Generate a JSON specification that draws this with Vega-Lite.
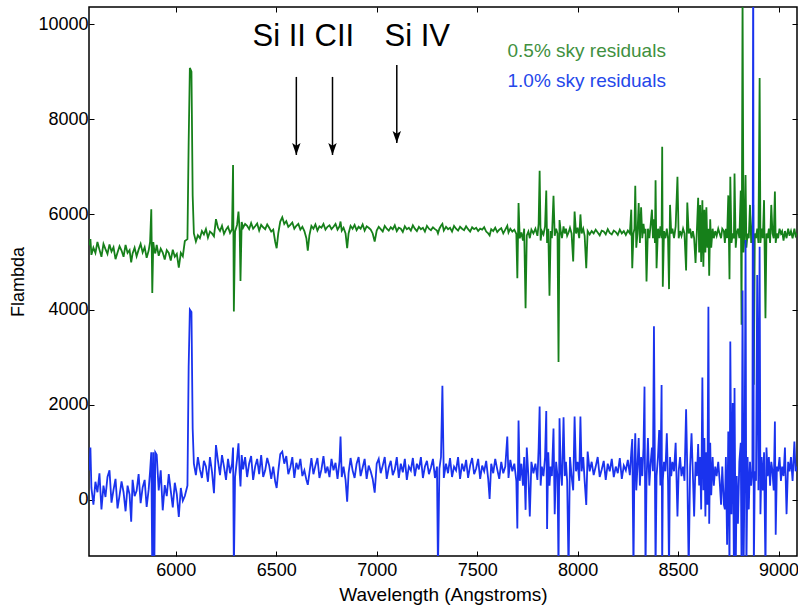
{
  "$schema": "https://vega.github.io/schema/vega-lite/v6.json",
  "width": 708,
  "height": 549,
  "autosize": {"type": "none"},
  "padding": {"left": 89, "top": 7, "right": 1, "bottom": 50},
  "background": "white",
  "config": {
    "view": {"stroke": "black", "strokeWidth": 1.5},
    "font": "Liberation Sans",
    "axis": {"labelFont": "Liberation Sans", "titleFont": "Liberation Sans", "labelFontSize": 18, "titleFontSize": 18, "titleFontWeight": "normal", "labelColor": "black", "titleColor": "black", "tickColor": "black", "domain": false, "grid": false, "tickSize": -5, "tickWidth": 1, "format": "d"}
  },
  "datasets": {
    "spec": [
      {"w":5570,"g":5350,"b":620},{"w":5575,"g":5480,"b":1100},{"w":5580,"g":5150,"b":250},{"w":5590,"g":5300,"b":-100},{"w":5600,"g":5190,"b":380},{"w":5610,"g":5420,"b":160},{"w":5620,"g":5260,"b":560},{"w":5630,"g":5110,"b":-200},{"w":5640,"g":5380,"b":300},{"w":5650,"g":5270,"b":60},{"w":5660,"g":5170,"b":480},{"w":5670,"g":5370,"b":620},{"w":5680,"g":5220,"b":-60},{"w":5690,"g":5310,"b":210},{"w":5700,"g":5060,"b":440},{"w":5710,"g":5200,"b":-180},{"w":5720,"g":5330,"b":90},{"w":5730,"g":5240,"b":390},{"w":5740,"g":5110,"b":160},{"w":5750,"g":5360,"b":-240},{"w":5760,"g":5190,"b":300},{"w":5770,"g":5250,"b":110},{"w":5778,"g":4990,"b":-460},{"w":5785,"g":5180,"b":420},{"w":5795,"g":5300,"b":80},{"w":5805,"g":5120,"b":190},{"w":5815,"g":5260,"b":540},{"w":5825,"g":5380,"b":-70},{"w":5835,"g":5200,"b":260},{"w":5845,"g":5310,"b":420},{"w":5855,"g":5090,"b":-150},{"w":5865,"g":5240,"b":220},{"w":5872,"g":5420,"b":600},{"w":5878,"g":6110,"b":1000},{"w":5883,"g":4350,"b":-1500},{"w":5888,"g":5420,"b":1000},{"w":5893,"g":5250,"b":-1500},{"w":5898,"g":5180,"b":1000},{"w":5905,"g":5360,"b":950},{"w":5915,"g":5130,"b":200},{"w":5925,"g":5280,"b":620},{"w":5935,"g":5200,"b":-220},{"w":5945,"g":5050,"b":310},{"w":5955,"g":5250,"b":80},{"w":5965,"g":5190,"b":540},{"w":5975,"g":5030,"b":190},{"w":5985,"g":5260,"b":-160},{"w":5995,"g":5110,"b":360},{"w":6005,"g":5170,"b":120},{"w":6015,"g":4880,"b":-360},{"w":6025,"g":5190,"b":250},{"w":6035,"g":5120,"b":-20},{"w":6045,"g":5440,"b":80},{"w":6058,"g":5480,"b":300},{"w":6064,"g":7500,"b":2800},{"w":6070,"g":9080,"b":4000},{"w":6078,"g":9000,"b":3950},{"w":6084,"g":6400,"b":1500},{"w":6090,"g":5600,"b":760},
      {"w":6100,"g":5430,"b":520},{"w":6110,"g":5560,"b":900},{"w":6120,"g":5500,"b":640},{"w":6130,"g":5650,"b":460},{"w":6140,"g":5580,"b":820},{"w":6150,"g":5690,"b":700},{"w":6160,"g":5510,"b":380},{"w":6170,"g":5640,"b":900},{"w":6180,"g":5600,"b":600},{"w":6190,"g":5540,"b":140},{"w":6200,"g":5900,"b":1150},{"w":6210,"g":5720,"b":820},{"w":6220,"g":5650,"b":520},{"w":6230,"g":5760,"b":940},{"w":6240,"g":5590,"b":700},{"w":6250,"g":5680,"b":420},{"w":6260,"g":5740,"b":860},{"w":6270,"g":5610,"b":560},{"w":6280,"g":5690,"b":760},{"w":6285,"g":7040,"b":1100},{"w":6289,"g":3960,"b":-1500},{"w":6295,"g":5640,"b":480},{"w":6305,"g":5780,"b":860},{"w":6312,"g":6060,"b":1190},{"w":6318,"g":5660,"b":560},{"w":6322,"g":4600,"b":280},{"w":6328,"g":5840,"b":940},{"w":6335,"g":5720,"b":640},{"w":6345,"g":5800,"b":900},{"w":6355,"g":5760,"b":480},{"w":6365,"g":5690,"b":760},{"w":6375,"g":5820,"b":920},{"w":6385,"g":5700,"b":420},{"w":6395,"g":5750,"b":700},{"w":6405,"g":5810,"b":860},{"w":6415,"g":5660,"b":540},{"w":6425,"g":5780,"b":940},{"w":6435,"g":5730,"b":480},{"w":6445,"g":5690,"b":620},{"w":6455,"g":5790,"b":880},{"w":6465,"g":5720,"b":720},{"w":6475,"g":5640,"b":440},{"w":6485,"g":5680,"b":700},{"w":6495,"g":5420,"b":380},{"w":6502,"g":5290,"b":250},{"w":6510,"g":5600,"b":600},{"w":6520,"g":5850,"b":960},{"w":6530,"g":5940,"b":1015},{"w":6540,"g":5800,"b":760},{"w":6550,"g":5860,"b":920},{"w":6560,"g":5740,"b":540},{"w":6570,"g":5780,"b":680},{"w":6580,"g":5830,"b":900},{"w":6590,"g":5700,"b":460},{"w":6600,"g":5760,"b":780},{"w":6610,"g":5800,"b":640},{"w":6620,"g":5680,"b":860},{"w":6630,"g":5740,"b":500},{"w":6640,"g":5650,"b":620},{"w":6650,"g":5500,"b":420},{"w":6657,"g":5240,"b":315},{"w":6665,"g":5560,"b":560},{"w":6675,"g":5760,"b":880},{"w":6685,"g":5700,"b":540},{"w":6695,"g":5790,"b":720},{"w":6705,"g":5660,"b":880},{"w":6715,"g":5750,"b":460},{"w":6725,"g":5720,"b":640},{"w":6735,"g":5800,"b":920},{"w":6745,"g":5680,"b":560},{"w":6755,"g":5740,"b":700},{"w":6765,"g":5770,"b":480},{"w":6775,"g":5690,"b":860},{"w":6785,"g":5740,"b":620},{"w":6795,"g":5800,"b":780},{"w":6805,"g":5680,"b":440},{"w":6815,"g":5750,"b":820},{"w":6820,"g":5850,"b":1330},{"w":6826,"g":5660,"b":480},{"w":6835,"g":5720,"b":700},{"w":6845,"g":5600,"b":420},{"w":6853,"g":5290,"b":-40},{"w":6860,"g":5600,"b":560},{"w":6870,"g":5760,"b":880},{"w":6880,"g":5700,"b":620},{"w":6890,"g":5780,"b":460},{"w":6900,"g":5670,"b":760},{"w":6910,"g":5740,"b":900},{"w":6920,"g":5700,"b":500},{"w":6930,"g":5790,"b":680},{"w":6940,"g":5660,"b":860},{"w":6950,"g":5750,"b":440},{"w":6960,"g":5720,"b":720},{"w":6970,"g":5680,"b":600},{"w":6980,"g":5600,"b":440},{"w":6990,"g":5430,"b":150},{"w":7000,"g":5660,"b":760},
      {"w":7010,"g":5740,"b":860},{"w":7020,"g":5690,"b":560},{"w":7030,"g":5640,"b":720},{"w":7040,"g":5760,"b":900},{"w":7050,"g":5700,"b":440},{"w":7060,"g":5660,"b":680},{"w":7070,"g":5730,"b":820},{"w":7080,"g":5690,"b":520},{"w":7090,"g":5770,"b":640},{"w":7100,"g":5650,"b":900},{"w":7110,"g":5720,"b":460},{"w":7120,"g":5700,"b":760},{"w":7130,"g":5630,"b":580},{"w":7140,"g":5750,"b":860},{"w":7150,"g":5690,"b":420},{"w":7160,"g":5720,"b":700},{"w":7170,"g":5660,"b":620},{"w":7180,"g":5770,"b":880},{"w":7190,"g":5700,"b":500},{"w":7200,"g":5650,"b":760},{"w":7210,"g":5740,"b":640},{"w":7220,"g":5690,"b":900},{"w":7230,"g":5720,"b":460},{"w":7240,"g":5640,"b":700},{"w":7250,"g":5760,"b":820},{"w":7260,"g":5700,"b":540},{"w":7270,"g":5670,"b":680},{"w":7280,"g":5730,"b":860},{"w":7290,"g":5690,"b":460},{"w":7300,"g":5660,"b":700},{"w":7305,"g":5600,"b":-1500},{"w":7312,"g":5700,"b":650},{"w":7320,"g":5760,"b":900},{"w":7327,"g":5800,"b":2400},{"w":7334,"g":5660,"b":460},{"w":7345,"g":5740,"b":760},{"w":7355,"g":5690,"b":560},{"w":7365,"g":5720,"b":880},{"w":7375,"g":5640,"b":480},{"w":7385,"g":5760,"b":700},{"w":7395,"g":5700,"b":620},{"w":7405,"g":5660,"b":900},{"w":7415,"g":5740,"b":440},{"w":7425,"g":5700,"b":760},{"w":7435,"g":5670,"b":600},{"w":7445,"g":5750,"b":840},{"w":7455,"g":5690,"b":460},{"w":7465,"g":5640,"b":720},{"w":7475,"g":5730,"b":880},{"w":7485,"g":5690,"b":540},{"w":7495,"g":5720,"b":660},{"w":7505,"g":5650,"b":860},{"w":7515,"g":5700,"b":440},{"w":7525,"g":5680,"b":720},{"w":7535,"g":5730,"b":600},{"w":7545,"g":5640,"b":820},{"w":7555,"g":5600,"b":440},{"w":7562,"g":5560,"b":20},{"w":7570,"g":5690,"b":760},{"w":7580,"g":5650,"b":560},{"w":7590,"g":5720,"b":860},{"w":7600,"g":5630,"b":640},{"w":7610,"g":5680,"b":440},{"w":7620,"g":5710,"b":800},{"w":7630,"g":5600,"b":560},{"w":7640,"g":5680,"b":700},{"w":7650,"g":5760,"b":1330},{"w":7656,"g":5620,"b":460},{"w":7665,"g":5700,"b":840},{"w":7675,"g":5640,"b":600},{"w":7685,"g":5680,"b":760},{"w":7695,"g":5590,"b":400},
      {"w":7700,"g":4660,"b":-600},{"w":7706,"g":6240,"b":1666},{"w":7712,"g":5500,"b":400},{"w":7720,"g":5620,"b":760},{"w":7728,"g":5450,"b":300},{"w":7734,"g":5700,"b":900},{"w":7741,"g":4030,"b":-210},{"w":7747,"g":5560,"b":1100},{"w":7755,"g":5640,"b":500},{"w":7762,"g":5500,"b":-350},{"w":7770,"g":5680,"b":800},{"w":7780,"g":5600,"b":560},{"w":7790,"g":5700,"b":760},{"w":7800,"g":5550,"b":420},{"w":7806,"g":5800,"b":1100},{"w":7811,"g":6920,"b":1960},{"w":7816,"g":5450,"b":300},{"w":7822,"g":5650,"b":700},{"w":7830,"g":5580,"b":500},{"w":7838,"g":5750,"b":900},{"w":7844,"g":6500,"b":1870},{"w":7848,"g":5400,"b":-610},{"w":7854,"g":5700,"b":1000},{"w":7860,"g":4290,"b":300},{"w":7866,"g":5650,"b":700},{"w":7872,"g":5500,"b":500},{"w":7880,"g":6390,"b":1500},{"w":7886,"g":5550,"b":-300},{"w":7893,"g":5700,"b":800},{"w":7900,"g":5600,"b":500},{"w":7905,"g":2900,"b":-1500},{"w":7910,"g":5880,"b":1715},{"w":7916,"g":5650,"b":600},{"w":7922,"g":5500,"b":300},{"w":7930,"g":5750,"b":1735},{"w":7936,"g":5600,"b":500},{"w":7942,"g":5700,"b":800},{"w":7948,"g":5550,"b":400},{"w":7955,"g":5620,"b":-1500},{"w":7962,"g":5720,"b":900},{"w":7970,"g":5600,"b":500},{"w":7978,"g":5010,"b":200},{"w":7985,"g":6060,"b":1750},{"w":7992,"g":5600,"b":600},{"w":8000,"g":5720,"b":800},{"w":8008,"g":5500,"b":400},{"w":8014,"g":6000,"b":1750},{"w":8020,"g":5600,"b":600},{"w":8028,"g":5700,"b":900},{"w":8035,"g":5550,"b":400},{"w":8043,"g":4870,"b":-105},{"w":8050,"g":5650,"b":1015},{"w":8060,"g":5580,"b":600},
      {"w":8070,"g":5650,"b":800},{"w":8080,"g":5600,"b":520},{"w":8090,"g":5680,"b":700},{"w":8100,"g":5620,"b":900},{"w":8110,"g":5560,"b":480},{"w":8120,"g":5660,"b":640},{"w":8130,"g":5640,"b":820},{"w":8140,"g":5580,"b":420},{"w":8150,"g":5690,"b":760},{"w":8160,"g":5610,"b":600},{"w":8170,"g":5580,"b":860},{"w":8180,"g":5660,"b":480},{"w":8190,"g":5630,"b":700},{"w":8200,"g":5570,"b":560},{"w":8210,"g":5680,"b":880},{"w":8220,"g":5600,"b":440},{"w":8230,"g":5650,"b":720},{"w":8240,"g":5570,"b":620},{"w":8250,"g":5660,"b":840},{"w":8260,"g":5600,"b":520},
      {"w":8267,"g":6100,"b":1000},{"w":8272,"g":4870,"b":1280},{"w":8278,"g":5600,"b":-1500},{"w":8283,"g":5700,"b":800},{"w":8287,"g":6600,"b":1400},{"w":8292,"g":5300,"b":200},{"w":8298,"g":5600,"b":700},{"w":8304,"g":6240,"b":1300},{"w":8310,"g":5400,"b":300},{"w":8316,"g":6150,"b":900},{"w":8322,"g":5500,"b":500},{"w":8328,"g":5800,"b":1100},{"w":8333,"g":5600,"b":2380},{"w":8338,"g":5700,"b":-1500},{"w":8343,"g":4590,"b":400},{"w":8350,"g":5700,"b":1300},{"w":8357,"g":5500,"b":300},{"w":8364,"g":5800,"b":800},{"w":8370,"g":6100,"b":1100},{"w":8375,"g":5500,"b":600},{"w":8380,"g":5900,"b":3650},{"w":8385,"g":5400,"b":400},{"w":8388,"g":6720,"b":-1500},{"w":8393,"g":4870,"b":500},{"w":8400,"g":5700,"b":900},{"w":8406,"g":5500,"b":1470},{"w":8412,"g":5750,"b":300},{"w":8418,"g":5500,"b":2416},{"w":8421,"g":7420,"b":-1500},{"w":8424,"g":4480,"b":400},{"w":8430,"g":5650,"b":800},{"w":8437,"g":5500,"b":600},{"w":8444,"g":5700,"b":1400},{"w":8450,"g":5500,"b":400},{"w":8455,"g":4430,"b":-1500},{"w":8460,"g":6200,"b":900},{"w":8466,"g":5600,"b":500},{"w":8472,"g":5700,"b":800},{"w":8480,"g":5500,"b":600},{"w":8488,"g":5750,"b":1200},{"w":8497,"g":6790,"b":-350},{"w":8503,"g":5500,"b":600},{"w":8510,"g":5650,"b":900},{"w":8517,"g":5550,"b":500},{"w":8525,"g":5700,"b":700},{"w":8532,"g":5600,"b":400},{"w":8540,"g":4820,"b":1905},{"w":8546,"g":6250,"b":600},{"w":8553,"g":5600,"b":-1500},{"w":8560,"g":5700,"b":700},{"w":8567,"g":5500,"b":1400},{"w":8574,"g":5650,"b":500},{"w":8580,"g":5500,"b":-350},{"w":8587,"g":4980,"b":800},{"w":8594,"g":5700,"b":500},{"w":8600,"g":6350,"b":1176},{"w":8605,"g":5200,"b":300},{"w":8610,"g":6200,"b":900},{"w":8615,"g":5000,"b":-200},{"w":8621,"g":6300,"b":2570},{"w":8626,"g":4900,"b":200},{"w":8631,"g":6100,"b":1300},{"w":8636,"g":5200,"b":-350},{"w":8641,"g":6150,"b":1000},{"w":8646,"g":5300,"b":-100},{"w":8651,"g":5700,"b":4061},{"w":8655,"g":4710,"b":-500},{"w":8660,"g":5900,"b":1200},{"w":8665,"g":5300,"b":100},{"w":8672,"g":5700,"b":900},{"w":8678,"g":5500,"b":300},{"w":8685,"g":5650,"b":700},{"w":8692,"g":5550,"b":500},{"w":8700,"g":5700,"b":800},{"w":8707,"g":5600,"b":400},{"w":8714,"g":5500,"b":-100},{"w":8720,"g":5700,"b":700},{"w":8728,"g":5650,"b":-100},{"w":8733,"g":5400,"b":-200},{"w":8738,"g":5700,"b":900},{"w":8744,"g":5500,"b":-945},{"w":8750,"g":6400,"b":1435},{"w":8756,"g":4640,"b":-1500},{"w":8760,"g":6790,"b":3330},{"w":8766,"g":5400,"b":-300},{"w":8772,"g":5600,"b":2037},{"w":8778,"g":5500,"b":-1500},{"w":8781,"g":6860,"b":2350},{"w":8787,"g":5300,"b":-1500},{"w":8792,"g":5600,"b":500},{"w":8798,"g":5700,"b":-500},{"w":8805,"g":5500,"b":800},{"w":8812,"g":6500,"b":1200},{"w":8816,"g":3680,"b":-1500},{"w":8821,"g":10600,"b":4400},{"w":8826,"g":5200,"b":-1500},{"w":8831,"g":5600,"b":600},{"w":8836,"g":6830,"b":5460},{"w":8840,"g":5300,"b":-1500},{"w":8846,"g":5600,"b":900},{"w":8852,"g":5500,"b":-200},{"w":8858,"g":6200,"b":800},{"w":8864,"g":5400,"b":300},{"w":8870,"g":5700,"b":600},{"w":8874,"g":6200,"b":12000},{"w":8877,"g":2420,"b":-1500},{"w":8882,"g":5600,"b":600},{"w":8888,"g":5500,"b":400},{"w":8894,"g":5700,"b":4727},{"w":8900,"g":5400,"b":200},{"w":8906,"g":8870,"b":5322},{"w":8910,"g":5400,"b":-300},{"w":8916,"g":5700,"b":900},{"w":8922,"g":5500,"b":200},{"w":8928,"g":6300,"b":1000},{"w":8935,"g":3820,"b":-1500},{"w":8940,"g":5600,"b":1100},{"w":8946,"g":5500,"b":500},{"w":8952,"g":5700,"b":900},{"w":8958,"g":5400,"b":300},{"w":8964,"g":6200,"b":800},{"w":8970,"g":5600,"b":600},{"w":8976,"g":5500,"b":200},{"w":8982,"g":6480,"b":1645},{"w":8986,"g":5400,"b":-735},{"w":8992,"g":5600,"b":700},{"w":8998,"g":5500,"b":600},{"w":9005,"g":5700,"b":900},{"w":9012,"g":5600,"b":400},{"w":9018,"g":5650,"b":700},{"w":9025,"g":5450,"b":500},{"w":9032,"g":5650,"b":1100},{"w":9040,"g":5500,"b":-300},{"w":9048,"g":5700,"b":800},{"w":9055,"g":5550,"b":600},{"w":9062,"g":5650,"b":900},{"w":9070,"g":5500,"b":400},{"w":9079,"g":5700,"b":1225},{"w":9085,"g":5550,"b":600},{"w":9092,"g":5600,"b":700}
    ],
    "arrows": [
      {"w":6600,"top":8890,"tip":7250},
      {"w":6780,"top":8890,"tip":7250},
      {"w":7100,"top":9140,"tip":7500}
    ],
    "lines": [
      {"w":6382,"f":9540,"t":"Si II CII"},
      {"w":7039,"f":9540,"t":"Si IV"}
    ],
    "series": [
      {"w":7651,"f":9307,"t":"0.5% sky residuals","s":"0.5%"},
      {"w":7651,"f":8676,"t":"1.0% sky residuals","s":"1.0%"}
    ]
  },
  "resolve": {"axis": {"x": "independent", "y": "independent"}},
  "layer": [
    {
      "data": {"name": "spec"},
      "mark": {"type": "line", "clip": true, "color": "#16801a", "strokeWidth": 1.8, "interpolate": "linear"},
      "encoding": {
        "x": {"field": "w", "type": "quantitative", "scale": {"domain": [5568, 9092], "nice": false, "zero": false},
              "axis": {"title": "Wavelength (Angstroms)", "titleFontSize": 19, "values": [6000, 6500, 7000, 7500, 8000, 8500, 9000], "labelPadding": 10, "titlePadding": 6}},
        "y": {"field": "g", "type": "quantitative", "scale": {"domain": [-1180, 10360], "nice": false, "zero": false},
              "axis": {"title": "Flambda", "values": [0, 2000, 4000, 6000, 8000, 10000], "labelPadding": 6, "titlePadding": 10}}
      }
    },
    {
      "data": {"name": "spec"},
      "mark": {"type": "line", "clip": true, "color": "#1a33ee", "strokeWidth": 1.8, "interpolate": "linear"},
      "encoding": {
        "x": {"field": "w", "type": "quantitative", "axis": null},
        "y": {"field": "b", "type": "quantitative", "axis": null}
      }
    },
    {
      "data": {"name": "arrows"},
      "mark": {"type": "rule", "color": "black", "strokeWidth": 1.5},
      "encoding": {
        "x": {"field": "w", "type": "quantitative", "axis": {"orient": "top", "labels": false, "title": null, "values": [6000, 6500, 7000, 7500, 8000, 8500, 9000]}},
        "y": {"field": "top", "type": "quantitative", "axis": {"orient": "right", "labels": false, "title": null, "values": [0, 2000, 4000, 6000, 8000, 10000]}},
        "y2": {"field": "tip"}
      }
    },
    {
      "data": {"name": "arrows"},
      "mark": {"type": "point", "shape": "M0,1L-0.7,-1L0,-0.55L0.7,-1Z", "filled": true, "color": "black", "opacity": 1, "size": 144, "yOffset": -6},
      "encoding": {
        "x": {"field": "w", "type": "quantitative", "axis": null},
        "y": {"field": "tip", "type": "quantitative", "axis": null}
      }
    },
    {
      "data": {"name": "lines"},
      "mark": {"type": "text", "align": "left", "baseline": "alphabetic", "fontSize": 31, "font": "Liberation Sans", "color": "black"},
      "encoding": {
        "x": {"field": "w", "type": "quantitative", "axis": null},
        "y": {"field": "f", "type": "quantitative", "axis": null},
        "text": {"field": "t"}
      }
    },
    {
      "data": {"name": "series"},
      "mark": {"type": "text", "align": "left", "baseline": "alphabetic", "fontSize": 19, "font": "Liberation Sans"},
      "encoding": {
        "x": {"field": "w", "type": "quantitative", "axis": null},
        "y": {"field": "f", "type": "quantitative", "axis": null},
        "text": {"field": "t"},
        "color": {"field": "s", "type": "nominal", "scale": {"domain": ["0.5%", "1.0%"], "range": ["#3f9040", "#2447ea"]}, "legend": null}
      }
    }
  ]
}
